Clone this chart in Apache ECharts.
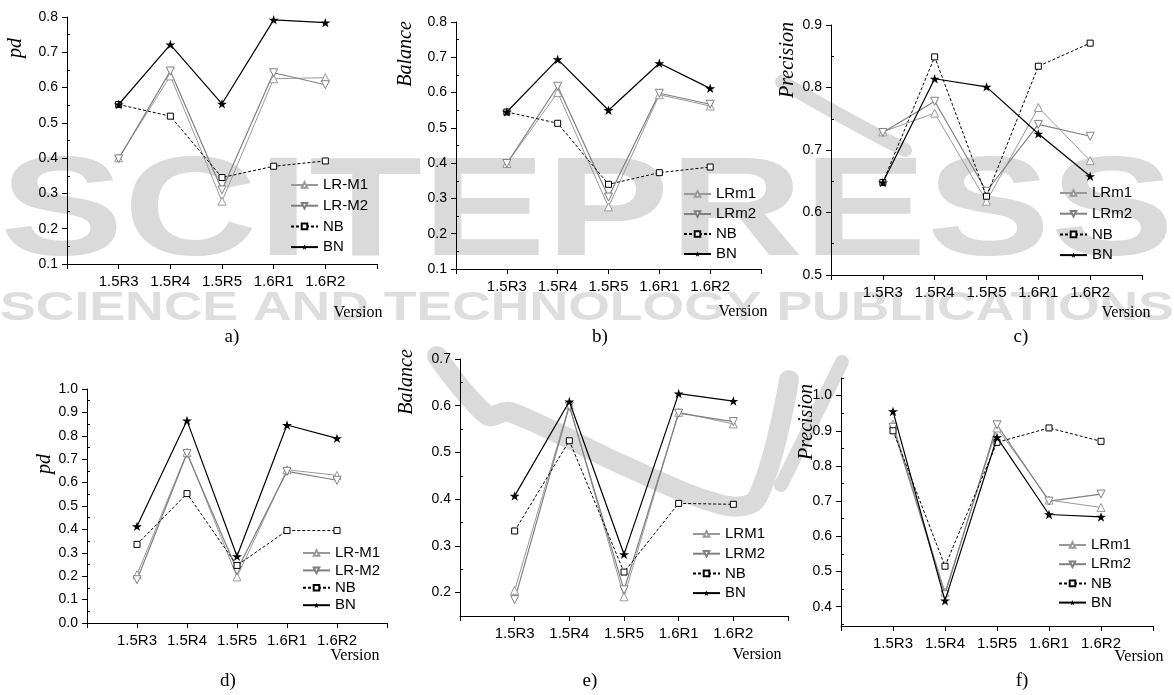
<!DOCTYPE html>
<html><head><meta charset="utf-8">
<script src="https://cdn.jsdelivr.net/npm/echarts@6/dist/echarts.min.js"></script>
<style>html,body{margin:0;padding:0;background:#fff}#c{width:1174px;height:695px}</style>
</head><body><div id="c"></div>
<script>
// ---------- data ----------
const categories = ['1.5R3', '1.5R4', '1.5R5', '1.6R1', '1.6R2'];

const namesA = ['LR-M1', 'LR-M2', 'NB', 'BN'];
const namesB = ['LRm1', 'LRm2', 'NB', 'BN'];
const namesE = ['LRM1', 'LRM2', 'NB', 'BN'];

const aLR1 = [0.401, 0.633, 0.278, 0.625, 0.628];
const aLR2 = [0.398, 0.647, 0.310, 0.642, 0.608];
const aNB  = [0.552, 0.519, 0.345, 0.377, 0.392];
const aBN  = [0.552, 0.722, 0.554, 0.792, 0.784];

const bLR1 = [0.399, 0.600, 0.276, 0.594, 0.562];
const bLR2 = [0.399, 0.618, 0.304, 0.598, 0.567];
const bNB  = [0.545, 0.513, 0.340, 0.373, 0.389];
const bBN  = [0.545, 0.694, 0.550, 0.683, 0.612];

const cLR1 = [0.729, 0.759, 0.618, 0.768, 0.683];
const cLR2 = [0.728, 0.778, 0.634, 0.741, 0.722];
const cNB  = [0.648, 0.849, 0.626, 0.834, 0.871];
const cBN  = [0.648, 0.814, 0.801, 0.726, 0.658];

const dLR1 = [0.207, 0.729, 0.197, 0.655, 0.631];
const dLR2 = [0.185, 0.724, 0.225, 0.648, 0.610];
const dNB  = [0.336, 0.553, 0.246, 0.395, 0.395];
const dBN  = [0.413, 0.865, 0.285, 0.846, 0.789];

const eLR1 = [0.205, 0.602, 0.191, 0.586, 0.561];
const eLR2 = [0.185, 0.599, 0.206, 0.584, 0.566];
const eNB  = [0.332, 0.525, 0.244, 0.391, 0.389];
const eBN  = [0.407, 0.609, 0.282, 0.626, 0.610];

const fLR1 = [0.919, 0.441, 0.908, 0.703, 0.682];
const fLR2 = [0.910, 0.434, 0.917, 0.700, 0.720];
const fNB  = [0.900, 0.515, 0.867, 0.908, 0.870];
const fBN  = [0.955, 0.417, 0.881, 0.662, 0.655];

const ticksA = [0.1, 0.2, 0.3, 0.4, 0.5, 0.6, 0.7, 0.8];
const minorA = [0.15, 0.25, 0.35, 0.45, 0.55, 0.65, 0.75];
const ticksC = [0.5, 0.6, 0.7, 0.8, 0.9];
const minorC = [0.55, 0.65, 0.75, 0.85];
const ticksD = [0.0, 0.1, 0.2, 0.3, 0.4, 0.5, 0.6, 0.7, 0.8, 0.9, 1.0];
const minorD = [0.05, 0.15, 0.25, 0.35, 0.45, 0.55, 0.65, 0.75, 0.85, 0.95];
const ticksE = [0.2, 0.3, 0.4, 0.5, 0.6, 0.7];
const minorE = [0.15, 0.25, 0.35, 0.45, 0.55, 0.65];
const ticksF = [0.4, 0.5, 0.6, 0.7, 0.8, 0.9, 1.0];
const minorF = [0.35, 0.45, 0.55, 0.65, 0.75, 0.85, 0.95, 1.05];

// ---------- layout / style ----------
const SANS = 'Liberation Sans, Arial, sans-serif';
const SERIF = 'Liberation Serif, Times New Roman, serif';
const STAR = 'path://M50,0 L61.8,35.3 L98.9,35.3 L68.9,57.1 L80.3,92.5 L50,70.6 L19.7,92.5 L31.1,57.1 L1.1,35.3 L38.2,35.3 Z';

const panels = [
  {g:[67,17,310,247], y:[0.1,0.8], t:ticksA, m:minorA, n:namesA, d:[aLR1,aLR2,aNB,aBN],
   lg:[290,185,20.7], yn:['pd',16,48], ver:[358,313], tag:['a)',232,337]},
  {g:[456,22,305,247], y:[0.1,0.8], t:ticksA, m:minorA, n:namesB, d:[bLR1,bLR2,bNB,bBN],
   lg:[683,194,20], yn:['Balance',406,54], ver:[743,312], tag:['b)',600,337]},
  {g:[831,25,311,250], y:[0.5,0.9], t:ticksC, m:minorC, n:namesB, d:[cLR1,cLR2,cNB,cBN],
   lg:[1059,193,20.7], yn:['Precision',788,60], ver:[1126,313], tag:['c)',1021,337]},
  {g:[87,389,300,234], y:[0.0,1.0], t:ticksD, m:minorD, n:namesA, d:[dLR1,dLR2,dNB,dBN],
   lg:[302,553,17.4], yn:['pd',45,464], ver:[355,656], tag:['d)',228,681]},
  {g:[460,359,328,257], y:[0.15,0.7], t:ticksE, m:minorE, n:namesE, d:[eLR1,eLR2,eNB,eBN],
   lg:[692,534,19.7], yn:['Balance',407,382], ver:[757,655], tag:['e)',590,681]},
  {g:[841,378,312,248], y:[0.345,1.05], t:ticksF, m:minorF, n:namesB, d:[fLR1,fLR2,fNB,fBN],
   lg:[1058,545,19.2], yn:['Precision',807,422], ver:[1139,657], tag:['f)',1022,681]}
];

const styles = [
  {symbol:'triangle', size:8, rot:0, line:{color:'#999999', width:1, type:'solid'},
   item:{color:'#ffffff', borderColor:'#999999', borderWidth:1}, z:3},
  {symbol:'triangle', size:8, rot:180, line:{color:'#808080', width:1.2, type:'solid'},
   item:{color:'#ffffff', borderColor:'#808080', borderWidth:1}, z:3},
  {symbol:'rect', size:6, rot:0, line:{color:'#000000', width:1, type:[3,2]},
   item:{color:'#ffffff', borderColor:'#000000', borderWidth:1}, z:4},
  {symbol:STAR, size:10, rot:0, line:{color:'#000000', width:1.2, type:'solid'},
   item:{color:'#000000', borderColor:'#000000', borderWidth:0}, z:5}
];

const grid = [], xAxis = [], yAxis = [], series = [], legend = [], graphic = [];

// ---------- watermark (background) ----------
function measure(txt, font) {
  const ctx = document.createElement('canvas').getContext('2d');
  ctx.font = font; return ctx.measureText(txt).width;
}
const WM = '#dadada';
const wm1Font = 'bold 150px Liberation Sans';
const wm2Font = 'bold 40px Liberation Sans';
const wm1 = 'SCITEPRESS', wm2 = 'SCIENCE AND TECHNOLOGY PUBLICATIONS';
graphic.push({type:'text', z:-10, x:0, y:146, scaleX:1174/measure(wm1, wm1Font), scaleY:0.94,
  style:{text:wm1, font:wm1Font, fill:WM, textVerticalAlign:'top'}});
graphic.push({type:'text', z:-10, x:0, y:289, scaleX:1174/measure(wm2, wm2Font), scaleY:1.0,
  style:{text:wm2, font:wm2Font, fill:'#dedede', textVerticalAlign:'top'}});
graphic.push({type:'polyline', z:-10, shape:{points:[[437,356],[487,415],[510,412],[623,465],[723,505],[757,498],[789,380]], smooth:0.35},
  style:{stroke:WM, lineWidth:20, fill:null, lineCap:'round', lineJoin:'round'}});
graphic.push({type:'polyline', z:-10, shape:{points:[[782,82],[845,118],[905,150]], smooth:0.4},
  style:{stroke:WM, lineWidth:14, fill:null, lineCap:'round'}});
graphic.push({type:'polyline', z:-10, shape:{points:[[842,362],[781,485]]},
  style:{stroke:WM, lineWidth:14, fill:null, lineCap:'round'}});

panels.forEach((p, i) => {
  grid.push({left:p.g[0], top:p.g[1], width:p.g[2], height:p.g[3], containLabel:false});
  xAxis.push({type:'value', gridIndex:i, min:0, max:6, interval:1,
    axisLine:{show:true, onZero:false, lineStyle:{color:'#000', width:1}},
    axisTick:{show:true, inside:false, length:5, lineStyle:{color:'#000'}},
    splitLine:{show:false},
    axisLabel:{show:true, margin:10, fontSize:15, color:'#000', fontFamily:SANS,
      formatter: v => (v >= 1 && v <= categories.length) ? categories[v - 1] : ''}});
  yAxis.push({type:'value', gridIndex:i, min:p.y[0], max:p.y[1],
    axisLine:{show:true, onZero:false, lineStyle:{color:'#000', width:1}},
    axisTick:{show:true, inside:false, length:5, customValues:p.t, lineStyle:{color:'#000'}},
    splitLine:{show:false},
    axisLabel:{show:true, margin:9, fontSize:14, color:'#000', fontFamily:SANS,
      customValues:p.t, formatter: v => v.toFixed(1)}});
  yAxis.push({type:'value', gridIndex:i, min:p.y[0], max:p.y[1],
    axisLine:{show:false}, splitLine:{show:false}, axisLabel:{show:false},
    axisTick:{show:true, inside:false, length:3, customValues:p.m, lineStyle:{color:'#000'}}});
  p.d.forEach((arr, k) => {
    const s = styles[k];
    series.push({type:'line', name:p.n[k], xAxisIndex:i, yAxisIndex:2 * i,
      data: categories.map((c, j) => [j + 1, arr[j]]),
      symbol:s.symbol, symbolSize:s.size, symbolRotate:s.rot, symbolKeepAspect:true,
      showAllSymbol:true, lineStyle:s.line, itemStyle:s.item, z:s.z, animation:false,
      emphasis:{disabled:true}});
  });
  legend.push({data:p.n, orient:'vertical', left:p.lg[0], top:p.lg[1] - 7.5,
    itemWidth:27, itemHeight:7, itemGap:p.lg[2] - 15, selectedMode:false,
    textStyle:{fontSize:15, color:'#000', fontFamily:SANS}, padding:0});
  graphic.push({type:'text', x:p.yn[1], y:p.yn[2], rotation:Math.PI / 2,
    style:{text:p.yn[0], font:'italic 20px ' + SERIF, fill:'#000', textAlign:'center', textVerticalAlign:'middle'}});
  graphic.push({type:'text', x:p.ver[0], y:p.ver[1],
    style:{text:'Version', font:'16px ' + SERIF, fill:'#000', textAlign:'center', textVerticalAlign:'middle'}});
  graphic.push({type:'text', x:p.tag[1], y:p.tag[2],
    style:{text:p.tag[0], font:'19px ' + SERIF, fill:'#000', textAlign:'center', textVerticalAlign:'middle'}});
});

const chart = echarts.init(document.getElementById('c'), null, {renderer:'canvas'});
chart.setOption({animation:false, backgroundColor:'#fff', grid, xAxis, yAxis, series, legend, graphic});
</script></body></html>
